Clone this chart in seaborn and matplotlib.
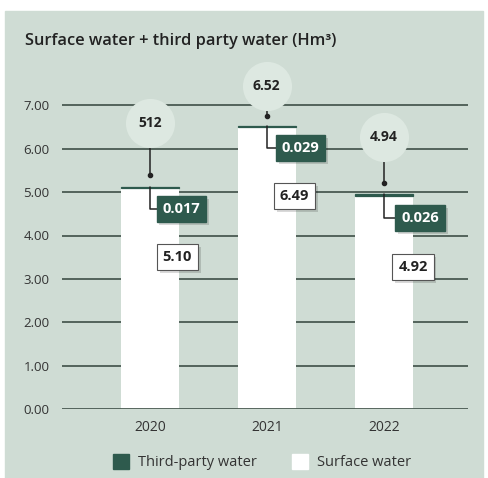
import matplotlib
matplotlib.use("Agg")
import matplotlib.pyplot as plt
import matplotlib.patches as mpatches
import matplotlib.patheffects as pe
import pandas as pd
import seaborn as sns

sns.set_style("white")
plt.rcParams['font.family'] = ['Open Sans', 'DejaVu Sans']

years = ["2020", "2021", "2022"]
surface_water = [5.10, 6.49, 4.92]
third_party_water = [0.017, 0.029, 0.026]
total_labels = ["512", "6.52", "4.94"]
surface_labels = ["5.10", "6.49", "4.92"]
third_labels = ["0.017", "0.029", "0.026"]
y_ticks = [0, 1, 2, 3, 4, 5, 6, 7]

# label layout (data units)
circle_y = [6.59, 7.44, 6.27]
dot_y = [5.39, 6.75, 5.21]
dark_dx = [0.27, 0.29, 0.31]
dark_y = [4.61, 6.01, 4.40]
white_dx = [0.235, 0.235, 0.25]
white_y = [3.50, 4.91, 3.27]

panel = "#cfdcd4"
dark = "#2e5a4d"
grid_c = "#4a5a52"
circle_c = "#dde8e1"

df = pd.DataFrame({"year": years, "surface": surface_water, "third": third_party_water})
df["total"] = df.surface + df.third

fig = plt.figure(figsize=(4.89, 4.78), dpi=100, facecolor="white")
fig.patches.append(mpatches.Rectangle((5 / 489, 0), 478 / 489, 1 - 11 / 478,
                                      transform=fig.transFigure, color=panel, zorder=-10))
ax = fig.add_axes([62 / 489, 69 / 478, 406 / 489, 347 / 478])
ax.set_facecolor("none")

for t in y_ticks[1:]:
    ax.axhline(t, color=grid_c, lw=1.3, zorder=0.5)

sns.barplot(data=df, x="year", y="surface", color="white", width=0.5,
            saturation=1, linewidth=0, ax=ax, zorder=1)
n = len(ax.patches)
sns.barplot(data=df, x="year", y="third", color=dark, width=0.5,
            saturation=1, linewidth=0.9, edgecolor=dark, ax=ax, zorder=1.5)
# stack third-party water on top of surface water
for p, b in zip(ax.patches[n:], surface_water):
    p.set_y(b)

ax.axhline(0, color=grid_c, lw=1.3, zorder=2)

shadow = [pe.withSimplePatchShadow(offset=(2, -2), shadow_rgbFace="#000000", alpha=0.15)]
for i in range(len(years)):
    top = df.total[i]
    ax.plot([i, i], [circle_y[i], dot_y[i]], color="#222222", lw=1.1, zorder=2.5)
    ax.plot([i], [dot_y[i]], "o", color="#222222", ms=3, zorder=2.5)
    ax.plot([i, i, i + dark_dx[i]], [top, dark_y[i], dark_y[i]], color="#222222", lw=1.1, zorder=2.5)
    ax.scatter([i], [circle_y[i]], s=1250, color=circle_c, zorder=3, clip_on=False, linewidths=0)
    ax.text(i, circle_y[i], total_labels[i], ha="center", va="center", fontsize=10,
            fontweight="bold", color="#222222", zorder=4)
    t1 = ax.text(i + dark_dx[i], dark_y[i], third_labels[i], ha="center", va="center", fontsize=10.5,
                 fontweight="bold", color="white", zorder=5,
                 bbox=dict(boxstyle="square,pad=0.4", fc=dark, ec=dark))
    t1.get_bbox_patch().set_path_effects(shadow)
    t2 = ax.text(i + white_dx[i], white_y[i], surface_labels[i], ha="center", va="center", fontsize=10.5,
                 fontweight="bold", color="#222222", zorder=5,
                 bbox=dict(boxstyle="square,pad=0.4", fc="white", ec="#555555", lw=0.8))
    t2.get_bbox_patch().set_path_effects(shadow)

ax.set_xlim(-0.75, 2.72)
ax.set_ylim(0, 8)
ax.set_yticks(y_ticks)
ax.set_yticklabels(["{:.2f}".format(t) for t in y_ticks])
ax.tick_params(axis="y", length=0, pad=9, labelsize=9.5, labelcolor="#333333")
ax.tick_params(axis="x", length=0, pad=8, labelsize=10, labelcolor="#333333")
ax.set_xlabel("")
ax.set_ylabel("")
sns.despine(ax=ax, left=True, bottom=True)

fig.text(25 / 489, 1 - 41 / 478, "Surface water + third party water (Hm³)", ha="left", va="center",
         fontsize=11.8, fontweight="semibold", color="#222222")

handles = [mpatches.Patch(color=dark, label="Third-party water"),
           mpatches.Patch(color="white", label="Surface water")]
fig.legend(handles=handles, loc="center", bbox_to_anchor=(0.536, 16 / 478), ncol=2, frameon=False,
           fontsize=10.5, handlelength=1.1, handleheight=1.2, columnspacing=2.4, handletextpad=0.6,
           labelcolor="#333333")

fig.savefig("out.png", dpi=100, facecolor="white")
